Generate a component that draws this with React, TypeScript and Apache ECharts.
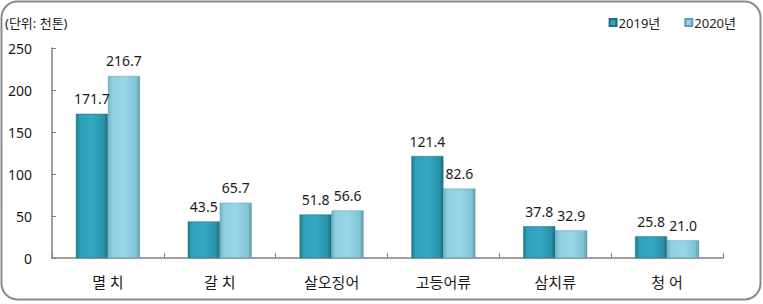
import React, { useEffect, useRef } from "react";
import * as echarts from "echarts";

const categories = ["멸 치", "갈 치", "살오징어", "고등어류", "삼치류", "청 어"];
const series2019 = [171.7, 43.5, 51.8, 121.4, 37.8, 25.8];
const series2020 = [216.7, 65.7, 56.6, 82.6, 32.9, 21.0];
const seriesNames = ["2019년", "2020년"];
const yTicks = { min: 0, max: 250, interval: 50 };
const unitLabel = "(단위: 천톤)";

const FONT = "'Noto Sans', 'Noto Sans CJK KR', sans-serif";

export default function App() {
  const ref = useRef<HTMLDivElement>(null);
  useEffect(() => {
    if (!ref.current) return;
    const chart = echarts.init(ref.current, undefined, { renderer: "svg" });
    const grad1 = new echarts.graphic.LinearGradient(0, 0, 1, 0, [
      { offset: 0, color: "#1f7b92" },
      { offset: 0.12, color: "#2f9fba" },
      { offset: 0.5, color: "#35a8c2" },
      { offset: 0.88, color: "#2a92ab" },
      { offset: 1, color: "#1c6a7f" },
    ]);
    const grad2 = new echarts.graphic.LinearGradient(0, 0, 1, 0, [
      { offset: 0, color: "#6fb3c7" },
      { offset: 0.12, color: "#8dcfe1" },
      { offset: 0.5, color: "#98d6e7" },
      { offset: 0.88, color: "#82c3d6" },
      { offset: 1, color: "#5d9db1" },
    ]);
    const labelStyle = {
      show: true,
      position: "top" as const,
      distance: 8,
      fontSize: 14,
      color: "#1a1a1a",
      fontFamily: FONT,
      formatter: (p: any) => Number(p.value).toFixed(1),
    };
    chart.setOption({
      animation: false,
      textStyle: { fontFamily: FONT },
      graphic: [
        {
          type: "rect",
          shape: { x: 1.5, y: 1.5, width: 759, height: 298, r: 16 },
          style: { fill: "none", stroke: "#8a8a8a", lineWidth: 2 },
          silent: true,
        },
        {
          type: "text",
          left: 5,
          top: 16,
          style: { text: unitLabel, fontSize: 13, fill: "#222", fontFamily: FONT },
        },
      ],
      legend: {
        data: seriesNames,
        right: 22,
        top: 11,
        itemWidth: 7,
        itemHeight: 7,
        itemGap: 24,
        icon: "rect",
        textStyle: { fontSize: 13, color: "#222", fontFamily: FONT, padding: [0, 0, 0, -3] },
      },
      grid: { left: 52, right: 40, top: 48, bottom: 46 },
      xAxis: {
        type: "category",
        data: categories,
        axisLine: { lineStyle: { color: "#808080", width: 1.5 } },
        axisTick: { show: true, inside: true, length: 5, alignWithLabel: false, lineStyle: { color: "#808080" } },
        axisLabel: { fontSize: 15, color: "#1a1a1a", margin: 16, fontFamily: FONT },
      },
      yAxis: {
        type: "value",
        min: yTicks.min,
        max: yTicks.max,
        interval: yTicks.interval,
        axisLine: { show: true, lineStyle: { color: "#808080", width: 1.5 } },
        axisTick: { show: true, inside: true, length: 4, lineStyle: { color: "#808080" } },
        splitLine: { show: false },
        axisLabel: { fontSize: 14, color: "#1a1a1a", margin: 20, fontFamily: FONT },
      },
      series: [
        {
          name: seriesNames[0],
          type: "bar",
          data: series2019,
          barWidth: 32,
          barGap: "0%",
          itemStyle: { color: grad1, borderColor: "#1d6f84", borderWidth: 0.5 },
          label: labelStyle,
        },
        {
          name: seriesNames[1],
          type: "bar",
          data: series2020,
          barWidth: 32,
          barGap: "0%",
          itemStyle: { color: grad2, borderColor: "#5f9fb3", borderWidth: 0.5 },
          label: labelStyle,
        },
      ],
    });
    return () => chart.dispose();
  }, []);
  return (
    <div
      ref={ref}
      style={{ position: "fixed", left: 0, top: 0, width: 763, height: 304, background: "#fff" }}
    />
  );
}
